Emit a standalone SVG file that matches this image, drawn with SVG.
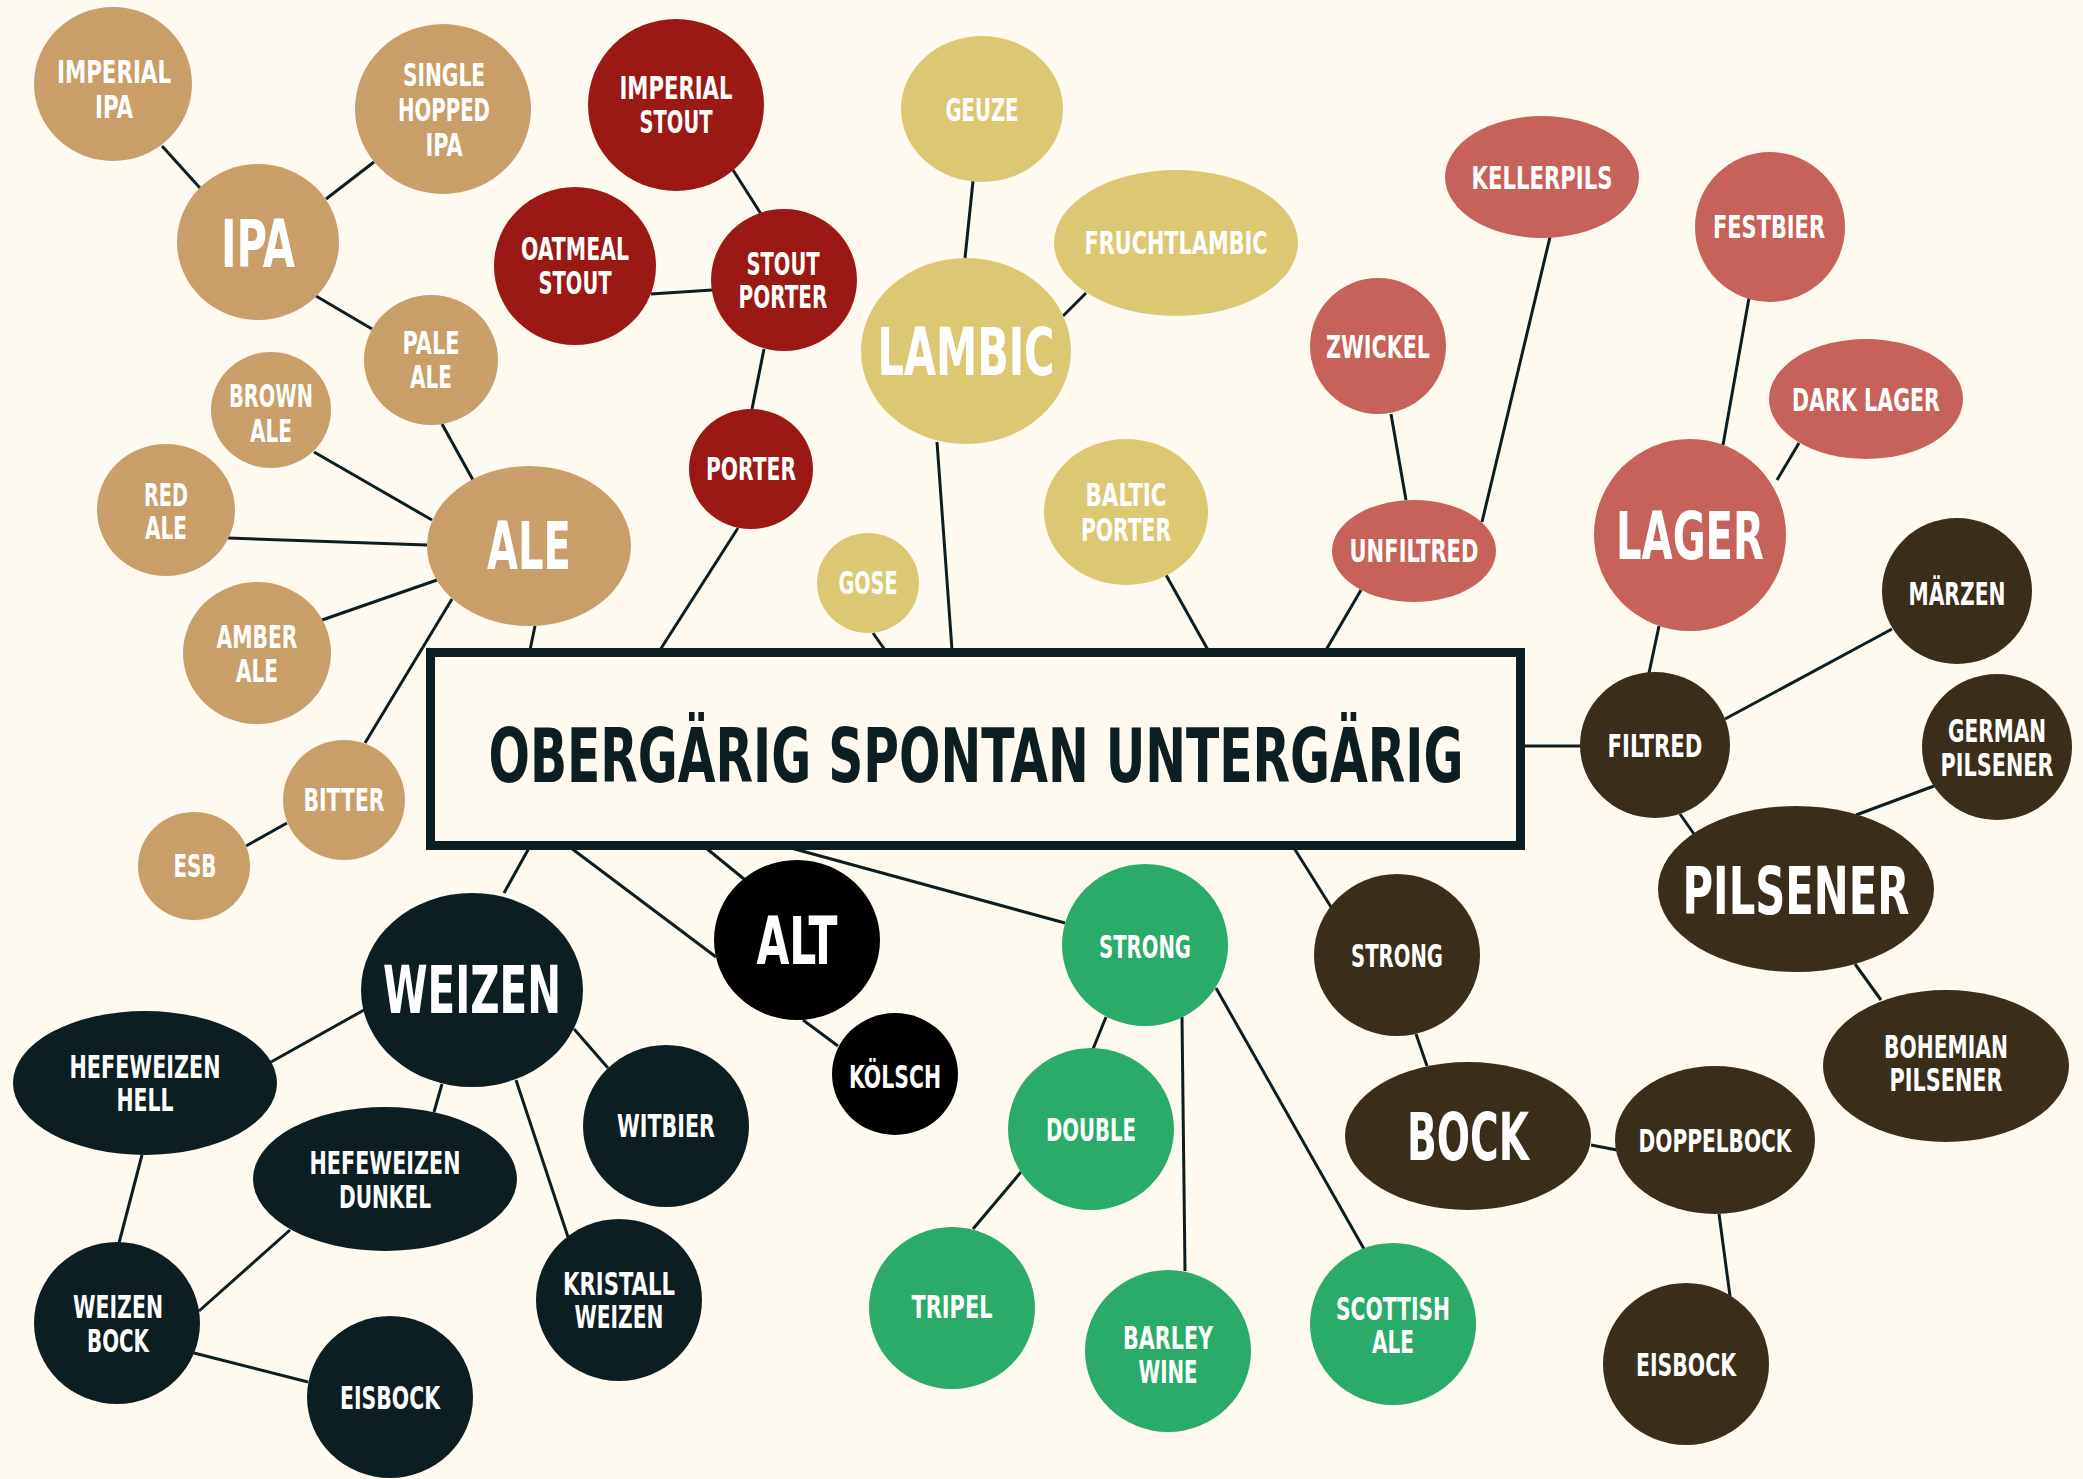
<svg xmlns="http://www.w3.org/2000/svg" width="2083" height="1479" viewBox="0 0 2083 1479">
<style>
.tan{fill:#C99E68}.red{fill:#9A1915}.yel{fill:#DCC873}.sal{fill:#C66259}.brn{fill:#3A2D1A}.nav{fill:#0D1E22}.blk{fill:#000}.grn{fill:#2AAB6A}
text{font-family:"DejaVu Sans Condensed","DejaVu Sans",sans-serif;font-stretch:condensed;font-weight:bold;fill:#fff;text-anchor:middle;font-size:31.5px}
text.big{font-size:66px}
text.title{font-size:75px;fill:#0D1E22}
#connectors line{stroke:#0D1E22;stroke-width:3}
</style>
<rect width="2083" height="1479" fill="#FEFAF0"/>
<g id="connectors">
<line x1="162" y1="146" x2="200" y2="188"/>
<line x1="374" y1="162" x2="326" y2="199"/>
<line x1="316" y1="296" x2="372" y2="329"/>
<line x1="442" y1="424" x2="473" y2="480"/>
<line x1="314" y1="452" x2="432" y2="520"/>
<line x1="228" y1="538" x2="427" y2="545"/>
<line x1="322" y1="620" x2="437" y2="580"/>
<line x1="452" y1="599" x2="365" y2="743"/>
<line x1="287" y1="823" x2="246" y2="846"/>
<line x1="535" y1="626" x2="530" y2="650"/>
<line x1="733" y1="170" x2="761" y2="214"/>
<line x1="651" y1="294" x2="712" y2="290"/>
<line x1="764" y1="349" x2="752" y2="409"/>
<line x1="738" y1="528" x2="660" y2="650"/>
<line x1="973" y1="181" x2="965" y2="258"/>
<line x1="1086" y1="293" x2="1063" y2="316"/>
<line x1="937" y1="442" x2="952" y2="650"/>
<line x1="873" y1="633" x2="885" y2="650"/>
<line x1="1166" y1="575" x2="1208" y2="650"/>
<line x1="1391" y1="414" x2="1406" y2="500"/>
<line x1="1550" y1="237" x2="1482" y2="522"/>
<line x1="1361" y1="590" x2="1326" y2="650"/>
<line x1="1749" y1="298" x2="1723" y2="445"/>
<line x1="1799" y1="443" x2="1777" y2="480"/>
<line x1="1659" y1="626" x2="1649" y2="673"/>
<line x1="1522" y1="746" x2="1581" y2="746"/>
<line x1="1725" y1="719" x2="1892" y2="629"/>
<line x1="1680" y1="814" x2="1694" y2="834"/>
<line x1="1856" y1="815" x2="1934" y2="786"/>
<line x1="1855" y1="964" x2="1881" y2="1000"/>
<line x1="1294" y1="848" x2="1331" y2="907"/>
<line x1="1416" y1="1034" x2="1427" y2="1066"/>
<line x1="1591" y1="1145" x2="1617" y2="1150"/>
<line x1="1719" y1="1214" x2="1730" y2="1296"/>
<line x1="529" y1="848" x2="504" y2="893"/>
<line x1="364" y1="1010" x2="271" y2="1062"/>
<line x1="442" y1="1084" x2="434" y2="1112"/>
<line x1="574" y1="1029" x2="608" y2="1068"/>
<line x1="516" y1="1080" x2="568" y2="1237"/>
<line x1="142" y1="1155" x2="119" y2="1243"/>
<line x1="290" y1="1230" x2="199" y2="1311"/>
<line x1="194" y1="1353" x2="308" y2="1382"/>
<line x1="571" y1="848" x2="716" y2="957"/>
<line x1="706" y1="848" x2="744" y2="879"/>
<line x1="803" y1="1020" x2="838" y2="1046"/>
<line x1="791" y1="848" x2="1065" y2="923"/>
<line x1="1106" y1="1017" x2="1093" y2="1049"/>
<line x1="1021" y1="1172" x2="973" y2="1229"/>
<line x1="1182" y1="1017" x2="1185" y2="1271"/>
<line x1="1216" y1="988" x2="1364" y2="1249"/>
</g>
<g id="center">
<rect x="430.5" y="652.5" width="1090" height="193" fill="#FEFAF0" stroke="#0D1E22" stroke-width="9"/>
<text class="title" transform="scale(0.75,1)" x="1301.3" y="782" textLength="1300" lengthAdjust="spacingAndGlyphs">OBERGÄRIG SPONTAN UNTERGÄRIG</text>
</g>
<g id="imperial-ipa"><ellipse class="tan" cx="113" cy="84" rx="79" ry="77"/><text x="114" y="83" textLength="114" lengthAdjust="spacingAndGlyphs">IMPERIAL</text><text x="114" y="118" textLength="38" lengthAdjust="spacingAndGlyphs">IPA</text></g>
<g id="single-hopped-ipa"><ellipse class="tan" cx="443" cy="109" rx="88" ry="85"/><text x="444" y="86" textLength="82" lengthAdjust="spacingAndGlyphs">SINGLE</text><text x="444" y="121" textLength="92" lengthAdjust="spacingAndGlyphs">HOPPED</text><text x="444" y="156" textLength="37" lengthAdjust="spacingAndGlyphs">IPA</text></g>
<g id="ipa"><ellipse class="tan" cx="258" cy="242" rx="81" ry="78"/><text class="big" x="258" y="267" textLength="74" lengthAdjust="spacingAndGlyphs">IPA</text></g>
<g id="pale-ale"><ellipse class="tan" cx="431" cy="360" rx="67" ry="65"/><text x="431" y="354" textLength="57" lengthAdjust="spacingAndGlyphs">PALE</text><text x="431" y="388" textLength="42" lengthAdjust="spacingAndGlyphs">ALE</text></g>
<g id="brown-ale"><ellipse class="tan" cx="271" cy="410" rx="60" ry="58"/><text x="271" y="407" textLength="84" lengthAdjust="spacingAndGlyphs">BROWN</text><text x="271" y="442" textLength="42" lengthAdjust="spacingAndGlyphs">ALE</text></g>
<g id="red-ale"><ellipse class="tan" cx="166" cy="510" rx="69" ry="66"/><text x="166" y="506" textLength="44" lengthAdjust="spacingAndGlyphs">RED</text><text x="166" y="539" textLength="42" lengthAdjust="spacingAndGlyphs">ALE</text></g>
<g id="ale"><ellipse class="tan" cx="529" cy="546" rx="102" ry="80"/><text class="big" x="529" y="569" textLength="84" lengthAdjust="spacingAndGlyphs">ALE</text></g>
<g id="amber-ale"><ellipse class="tan" cx="257" cy="653" rx="74" ry="71"/><text x="257" y="648" textLength="81" lengthAdjust="spacingAndGlyphs">AMBER</text><text x="257" y="682" textLength="42" lengthAdjust="spacingAndGlyphs">ALE</text></g>
<g id="bitter"><ellipse class="tan" cx="344" cy="800" rx="61" ry="60"/><text x="344" y="811" textLength="81" lengthAdjust="spacingAndGlyphs">BITTER</text></g>
<g id="esb"><ellipse class="tan" cx="194" cy="866" rx="56" ry="54"/><text x="195" y="877" textLength="43" lengthAdjust="spacingAndGlyphs">ESB</text></g>
<g id="imperial-stout"><ellipse class="red" cx="676" cy="105" rx="88" ry="86"/><text x="676" y="99" textLength="113" lengthAdjust="spacingAndGlyphs">IMPERIAL</text><text x="676" y="133" textLength="73" lengthAdjust="spacingAndGlyphs">STOUT</text></g>
<g id="oatmeal-stout"><ellipse class="red" cx="575" cy="266" rx="81" ry="79"/><text x="575" y="260" textLength="108" lengthAdjust="spacingAndGlyphs">OATMEAL</text><text x="575" y="294" textLength="73" lengthAdjust="spacingAndGlyphs">STOUT</text></g>
<g id="stout-porter"><ellipse class="red" cx="784" cy="280" rx="73" ry="71"/><text x="783" y="275" textLength="73" lengthAdjust="spacingAndGlyphs">STOUT</text><text x="783" y="308" textLength="89" lengthAdjust="spacingAndGlyphs">PORTER</text></g>
<g id="porter"><ellipse class="red" cx="751" cy="469" rx="62" ry="60"/><text x="751" y="480" textLength="90" lengthAdjust="spacingAndGlyphs">PORTER</text></g>
<g id="geuze"><ellipse class="yel" cx="982" cy="109" rx="81" ry="73"/><text x="982" y="121" textLength="73" lengthAdjust="spacingAndGlyphs">GEUZE</text></g>
<g id="fruchtlambic"><ellipse class="yel" cx="1176" cy="243" rx="122" ry="73"/><text x="1176" y="254" textLength="183" lengthAdjust="spacingAndGlyphs">FRUCHTLAMBIC</text></g>
<g id="lambic"><ellipse class="yel" cx="966" cy="351" rx="105" ry="93"/><text class="big" x="966" y="375" textLength="177" lengthAdjust="spacingAndGlyphs">LAMBIC</text></g>
<g id="baltic-porter"><ellipse class="yel" cx="1126" cy="512" rx="82" ry="73"/><text x="1126" y="506" textLength="81" lengthAdjust="spacingAndGlyphs">BALTIC</text><text x="1126" y="541" textLength="90" lengthAdjust="spacingAndGlyphs">PORTER</text></g>
<g id="gose"><ellipse class="yel" cx="868" cy="583" rx="51" ry="50"/><text x="868" y="594" textLength="59" lengthAdjust="spacingAndGlyphs">GOSE</text></g>
<g id="kellerpils"><ellipse class="sal" cx="1542" cy="177" rx="97" ry="61"/><text x="1542" y="189" textLength="141" lengthAdjust="spacingAndGlyphs">KELLERPILS</text></g>
<g id="festbier"><ellipse class="sal" cx="1770" cy="227" rx="75" ry="75"/><text x="1769" y="238" textLength="112" lengthAdjust="spacingAndGlyphs">FESTBIER</text></g>
<g id="zwickel"><ellipse class="sal" cx="1378" cy="346" rx="68" ry="68"/><text x="1378" y="358" textLength="104" lengthAdjust="spacingAndGlyphs">ZWICKEL</text></g>
<g id="dark-lager"><ellipse class="sal" cx="1866" cy="399" rx="97" ry="60"/><text x="1866" y="411" textLength="148" lengthAdjust="spacingAndGlyphs">DARK LAGER</text></g>
<g id="unfiltred"><ellipse class="sal" cx="1414" cy="551" rx="82" ry="51"/><text x="1414" y="562" textLength="129" lengthAdjust="spacingAndGlyphs">UNFILTRED</text></g>
<g id="lager"><ellipse class="sal" cx="1690" cy="535" rx="96" ry="96"/><text class="big" x="1690" y="559" textLength="148" lengthAdjust="spacingAndGlyphs">LAGER</text></g>
<g id="maerzen"><ellipse class="brn" cx="1957" cy="591" rx="75" ry="73"/><text x="1957" y="605" textLength="97" lengthAdjust="spacingAndGlyphs">MÄRZEN</text></g>
<g id="filtred"><ellipse class="brn" cx="1655" cy="745" rx="75" ry="73"/><text x="1655" y="757" textLength="95" lengthAdjust="spacingAndGlyphs">FILTRED</text></g>
<g id="german-pilsener"><ellipse class="brn" cx="1997" cy="747" rx="75" ry="73"/><text x="1997" y="742" textLength="98" lengthAdjust="spacingAndGlyphs">GERMAN</text><text transform="scale(0.75,1)" x="2662.7" y="776" textLength="150.7" lengthAdjust="spacingAndGlyphs">PILSENER</text></g>
<g id="pilsener"><ellipse class="brn" cx="1796" cy="889" rx="138" ry="83"/><text class="big" x="1796" y="914" textLength="227" lengthAdjust="spacingAndGlyphs">PILSENER</text></g>
<g id="bohemian-pilsener"><ellipse class="brn" cx="1946" cy="1066" rx="123" ry="76"/><text x="1946" y="1058" textLength="124" lengthAdjust="spacingAndGlyphs">BOHEMIAN</text><text x="1946" y="1091" textLength="113" lengthAdjust="spacingAndGlyphs">PILSENER</text></g>
<g id="strong-lager"><ellipse class="brn" cx="1397" cy="955" rx="83" ry="81"/><text x="1397" y="967" textLength="92" lengthAdjust="spacingAndGlyphs">STRONG</text></g>
<g id="bock"><ellipse class="brn" cx="1468" cy="1136" rx="123" ry="74"/><text class="big" x="1468" y="1160" textLength="122" lengthAdjust="spacingAndGlyphs">BOCK</text></g>
<g id="doppelbock"><ellipse class="brn" cx="1715" cy="1140" rx="100" ry="74"/><text x="1715" y="1152" textLength="153" lengthAdjust="spacingAndGlyphs">DOPPELBOCK</text></g>
<g id="eisbock-lager"><ellipse class="brn" cx="1686" cy="1364" rx="83" ry="81"/><text x="1686" y="1376" textLength="100" lengthAdjust="spacingAndGlyphs">EISBOCK</text></g>
<g id="weizen"><ellipse class="nav" cx="472" cy="990" rx="111" ry="97"/><text class="big" x="472" y="1013" textLength="178" lengthAdjust="spacingAndGlyphs">WEIZEN</text></g>
<g id="hefeweizen-hell"><ellipse class="nav" cx="145" cy="1083" rx="132" ry="72"/><text x="145" y="1078" textLength="151" lengthAdjust="spacingAndGlyphs">HEFEWEIZEN</text><text x="145" y="1111" textLength="57" lengthAdjust="spacingAndGlyphs">HELL</text></g>
<g id="hefeweizen-dunkel"><ellipse class="nav" cx="385" cy="1179" rx="132" ry="72"/><text x="385" y="1174" textLength="151" lengthAdjust="spacingAndGlyphs">HEFEWEIZEN</text><text x="385" y="1208" textLength="92" lengthAdjust="spacingAndGlyphs">DUNKEL</text></g>
<g id="witbier"><ellipse class="nav" cx="666" cy="1126" rx="83" ry="81"/><text x="666" y="1137" textLength="98" lengthAdjust="spacingAndGlyphs">WITBIER</text></g>
<g id="kristall-weizen"><ellipse class="nav" cx="619" cy="1300" rx="83" ry="81"/><text x="619" y="1295" textLength="112" lengthAdjust="spacingAndGlyphs">KRISTALL</text><text x="619" y="1328" textLength="89" lengthAdjust="spacingAndGlyphs">WEIZEN</text></g>
<g id="weizen-bock"><ellipse class="nav" cx="117" cy="1323" rx="83" ry="81"/><text x="118" y="1318" textLength="90" lengthAdjust="spacingAndGlyphs">WEIZEN</text><text x="118" y="1352" textLength="62" lengthAdjust="spacingAndGlyphs">BOCK</text></g>
<g id="eisbock-weizen"><ellipse class="nav" cx="390" cy="1397" rx="83" ry="81"/><text x="390" y="1409" textLength="100" lengthAdjust="spacingAndGlyphs">EISBOCK</text></g>
<g id="alt"><ellipse class="blk" cx="797" cy="940" rx="83" ry="80"/><text class="big" x="797" y="964" textLength="81" lengthAdjust="spacingAndGlyphs">ALT</text></g>
<g id="koelsch"><ellipse class="blk" cx="895" cy="1074" rx="63" ry="61"/><text x="895" y="1088" textLength="92" lengthAdjust="spacingAndGlyphs">KÖLSCH</text></g>
<g id="strong-ale"><ellipse class="grn" cx="1145" cy="945" rx="83" ry="81"/><text x="1145" y="958" textLength="92" lengthAdjust="spacingAndGlyphs">STRONG</text></g>
<g id="double"><ellipse class="grn" cx="1091" cy="1129" rx="83" ry="81"/><text x="1091" y="1141" textLength="90" lengthAdjust="spacingAndGlyphs">DOUBLE</text></g>
<g id="tripel"><ellipse class="grn" cx="952" cy="1308" rx="83" ry="81"/><text x="952" y="1318" textLength="81" lengthAdjust="spacingAndGlyphs">TRIPEL</text></g>
<g id="barley-wine"><ellipse class="grn" cx="1168" cy="1351" rx="83" ry="81"/><text x="1168" y="1349" textLength="90" lengthAdjust="spacingAndGlyphs">BARLEY</text><text x="1168" y="1383" textLength="59" lengthAdjust="spacingAndGlyphs">WINE</text></g>
<g id="scottish-ale"><ellipse class="grn" cx="1393" cy="1324" rx="83" ry="81"/><text x="1393" y="1320" textLength="114" lengthAdjust="spacingAndGlyphs">SCOTTISH</text><text x="1393" y="1353" textLength="42" lengthAdjust="spacingAndGlyphs">ALE</text></g>
</svg>
